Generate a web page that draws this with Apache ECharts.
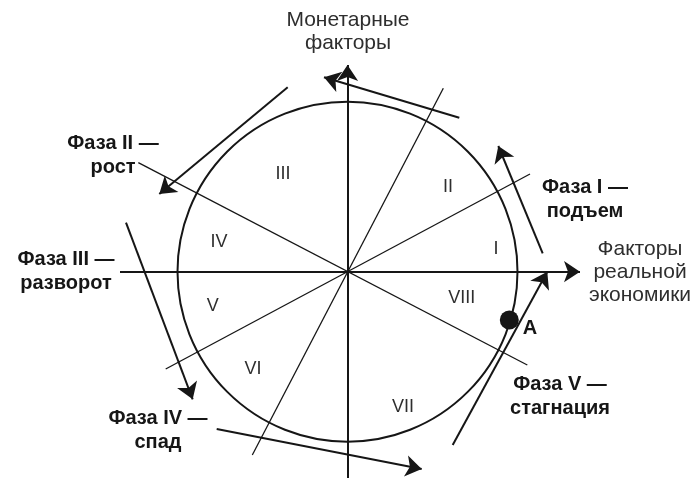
<!DOCTYPE html>
<html>
<head>
<meta charset="utf-8">
<script src="https://cdn.jsdelivr.net/npm/echarts@6/dist/echarts.min.js"></script>
<style>
  html, body { margin: 0; padding: 0; background: #fff; }
  #chart { width: 693px; height: 478px; }
</style>
</head>
<body>
<div id="chart"></div>
<script>
'use strict';

// data units are 1px, origin at the crossing of the two axes
var circleRadius = 170;

// axes with arrows: [from, to]
var axisLines = [
    [[-227.5, 0], [232.5, 0]],
    [[0, -206.3], [0, 206.7]]
];

// thin lines through the centre that split the circle into 8 sectors
var sectorLines = [
    [[-209.2, 109], [179.8, -93.3]],
    [[95.8, 183.4], [-95.2, -183.3]],
    [[182.5, 97.7], [-181.8, -97.3]]
];

// phase arrows round the circle (counter-clockwise)
var phaseArrows = [
    [[195.2, 18.4], [150.8, 125.7]],
    [[111.8, 154], [-23.5, 194.4]],
    [[-59.8, 184.4], [-188.2, 77.7]],
    [[-221.5, 49], [-154.8, -127.6]],
    [[-130.8, -157.3], [74.2, -197.3]],
    [[105.2, -173.3], [199.8, 0]]
];

var pointA = [161.8, -48.3];

var sectorNames = ['I', 'II', 'III', 'IV', 'V', 'VI', 'VII', 'VIII'];
var sectorLabelPos = [
    [148.5, 22.7], [100.5, 84.7], [-64.5, 97.7], [-128.5, 29.7],
    [-134.8, -34.3], [-94.5, -97.3], [55.5, -135.3], [114.2, -26.3]
];

var axisTitles = ['Монетарные\nфакторы', 'Факторы\nреальной\nэкономики'];
var axisTitlePos = [[0.5, 240.2], [292.5, -0.3]];

var phaseTitles = [
    'Фаза I —\nподъем',
    'Фаза II —\nрост',
    'Фаза III —\nразворот',
    'Фаза IV —\nспад',
    'Фаза V —\nстагнация',
    'A'
];
var phaseTitlePos = [
    [237.5, 72.2], [-234.5, 116.7], [-281.5, 0.2],
    [-189.5, -158.8], [212.5, -124.8], [182.5, -56.3]
];

var ink = '#161616';
var fontFamily = "'Liberation Sans', Arial, sans-serif";

function toLines(list) {
    return list.map(function (p) { return { coords: p }; });
}

function textPoints(names, pos) {
    return names.map(function (n, i) { return { value: pos[i], name: n }; });
}

function textSeries(names, pos, style) {
    return {
        type: 'scatter',
        symbolSize: 0,
        silent: true,
        itemStyle: { opacity: 1 },
        data: textPoints(names, pos),
        label: Object.assign({
            show: true,
            position: 'inside',
            align: 'center',
            verticalAlign: 'middle',
            formatter: '{b}',
            fontFamily: fontFamily
        }, style),
        z: 10
    };
}

var chart = echarts.init(document.getElementById('chart'));

chart.setOption({
    animation: false,
    backgroundColor: '#fff',
    grid: { left: 0, right: 0, top: 0, bottom: 0 },
    xAxis: { type: 'value', min: -347.5, max: 345.5, show: false },
    yAxis: { type: 'value', min: -206.3, max: 271.7, show: false },
    series: [
        {
            type: 'custom',
            coordinateSystem: 'cartesian2d',
            silent: true,
            data: [[0, 0, circleRadius]],
            renderItem: function (params, api) {
                var c = api.coord([api.value(0), api.value(1)]);
                var r = api.size([api.value(2), 0])[0];
                return {
                    type: 'circle',
                    shape: { cx: c[0], cy: c[1], r: r },
                    style: { fill: 'none', stroke: ink, lineWidth: 2 }
                };
            }
        },
        {
            type: 'lines',
            coordinateSystem: 'cartesian2d',
            silent: true,
            data: toLines(sectorLines),
            lineStyle: { color: ink, width: 1.3, opacity: 1 }
        },
        {
            type: 'lines',
            coordinateSystem: 'cartesian2d',
            silent: true,
            symbol: ['none', 'arrow'],
            symbolSize: [8, 16],
            data: toLines(axisLines.concat(phaseArrows)),
            lineStyle: { color: ink, width: 2, opacity: 1 }
        },
        {
            type: 'scatter',
            silent: true,
            symbolSize: 19,
            itemStyle: { color: ink, opacity: 1 },
            data: [pointA]
        },
        textSeries(sectorNames, sectorLabelPos, {
            fontSize: 18, color: '#2e2e2e', fontWeight: 'normal'
        }),
        textSeries(axisTitles, axisTitlePos, {
            fontSize: 21, color: '#2e2e2e', fontWeight: 'normal', lineHeight: 23
        }),
        textSeries(phaseTitles, phaseTitlePos, {
            fontSize: 20, color: '#161616', fontWeight: 'bold', lineHeight: 24
        })
    ]
});
</script>
</body>
</html>
